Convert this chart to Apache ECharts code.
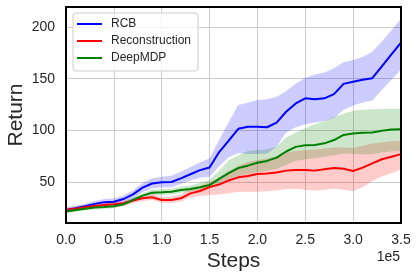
<!DOCTYPE html>
<html>
<head>
<meta charset="utf-8">
<script src="https://cdn.jsdelivr.net/npm/echarts@6/dist/echarts.min.js"></script>
<style>
html,body{margin:0;padding:0;background:#fff;}
#chart{width:418px;height:279px;}
</style>
</head>
<body>
<div id="chart"></div>
<script>
// x positions (training steps)
const steps = [0,10000,20000,30000,40000,50000,60000,70000,80000,90000,100000,110000,120000,130000,140000,150000,160000,170000,180000,190000,200000,210000,220000,230000,240000,250000,260000,270000,280000,290000,300000,310000,320000,330000,340000,350000];

const seriesNames = ['RCB','Reconstruction','DeepMDP'];

// RCB
const rcbMean  = [23,24.5,26.5,28.8,30.5,30.8,33.5,38,44.5,48.5,49.7,50,53.5,57.5,61.5,64,79,90,101.5,103.5,103.5,103,107.5,118,126,131,130,131,135,145,147,149,150.5,162,173.5,185];
const rcbUpper = [25.5,27,29,31.5,33.5,34,37,42,49,53.5,55,56,60,64.5,69,73,90.6,108,124.5,126.7,129.3,130,132.5,138,145,151,154,156,160,166,168,171,176,186,197,208];
const rcbLower = [20.5,22,24,26,27.5,27.8,30,34,40,44,45,45,48,51.5,54,55,65,74,78,77,77,77.5,84,98,103,106,107.5,109,112,120,124,127,129,139,149,159];

// Reconstruction
const recMean  = [23,24.2,25.5,26.8,27.8,28.4,29.4,32,34.2,35.2,32.6,32.6,34.2,39,41.3,45,47.5,51.5,54.5,55.8,57.7,58.2,59.2,61,61.6,61.6,61,62.3,63.5,62.9,60.6,63.9,68,72,74.5,77];
const recUpper = [25,26.3,27.8,29.1,30.2,30.8,31.9,34.6,37,38.2,35.5,36,38,43.5,46,50,54,61,65.5,69.6,71,73,75,78.5,80,81,81.5,82.5,83.5,83.5,83,85,87,88.5,89.5,90];
const recLower = [21,22,23.2,24.5,25.5,26,27,29.5,31.5,32.5,30,30,31,35,36.5,37.5,38,39,40.5,40.5,40.6,41,42,43,43.5,42.5,41.5,42.5,43.5,42.5,41,45,51,55.5,58.5,62];

// DeepMDP
const dmMean  = [21.5,22.9,24.2,25.2,25.8,26.5,28.4,32.6,36.8,39.7,40,40.5,42.3,43.2,45,47,53,58.5,63.5,65.8,68.7,70.4,73.6,79.5,84,85.5,85.8,87.4,90.6,95.5,97,97.7,98,99.6,100.8,101];
const dmUpper = [23,24.5,25.8,26.9,27.6,28.4,30.4,34.8,39.2,42.4,43,43.5,45.5,46.5,49,52,61,71,76,80,81,81.5,84,93,98,102,106,109,113,116,119,120,120.5,121,121,121];
const dmLower = [20,21.3,22.6,23.5,24,24.6,26.4,30.4,34.4,37,37.5,38,39.5,40.5,42,44,47,52,55.5,58,59.5,61,62.5,66.5,70.5,72,73,74.5,76,77.5,77,76.5,77,78.5,79.5,80];

// x tick labels (in units of 1e5)
const xTickLabels = ['0.0','0.5','1.0','1.5','2.0','2.5','3.0','3.5'];
const yTicks = [50,100,150,200];

const lineColors = ['#0000ff','#ff0000','#008000'];
const bandColors = ['rgba(0,0,255,0.2)','rgba(255,0,0,0.2)','rgba(0,128,0,0.2)'];
const means = [rcbMean, recMean, dmMean];
const uppers = [rcbUpper, recUpper, dmUpper];
const lowers = [rcbLower, recLower, dmLower];

const FONT = '"Liberation Sans", Arial, sans-serif';
const TXT = '#262626';

function bandSeries(k){
  const data = steps.map((s,i)=>[s, lowers[k][i], uppers[k][i]]);
  return {
    type:'custom',
    name: seriesNames[k] + ' band',
    silent:true,
    z:1,
    data,
    encode:{x:0, y:[1,2]},
    renderItem:function(params, api){
      if (params.dataIndex !== 0) return null;
      const pts = [];
      for (let i=0;i<data.length;i++) pts.push(api.coord([data[i][0], data[i][2]]));
      for (let i=data.length-1;i>=0;i--) pts.push(api.coord([data[i][0], data[i][1]]));
      return {type:'polygon', shape:{points:pts}, style:{fill:bandColors[k], stroke:null}};
    }
  };
}

function lineSeries(k){
  return {
    type:'line',
    name: seriesNames[k],
    data: steps.map((s,i)=>[s, means[k][i]]),
    symbol:'none',
    smooth:false,
    z:3,
    lineStyle:{color:lineColors[k], width:2},
    itemStyle:{color:lineColors[k]}
  };
}

const chart = echarts.init(document.getElementById('chart'), null, {renderer:'canvas'});
chart.setOption({
  animation:false,
  backgroundColor:'#ffffff',
  grid:{left:66, right:17, top:7, bottom:56, show:true, borderColor:'#000000', borderWidth:2, backgroundColor:'transparent', z:5, containLabel:false, outerBoundsMode:'none'},
  xAxis:{
    type:'value', min:0, max:350000, interval:50000,
    axisLine:{show:false}, axisTick:{show:false},
    axisLabel:{fontSize:14, color:TXT, fontFamily:FONT, margin:10,
      formatter:function(v){ const idx = Math.round(v/50000); return xTickLabels[idx] || ''; }},
    splitLine:{show:true, lineStyle:{color:'#cccccc', width:1}},
    name:'Steps', nameLocation:'middle', nameGap:28, nameMoveOverlap:false,
    nameTextStyle:{fontSize:21, color:TXT, fontFamily:FONT}
  },
  yAxis:{
    type:'value', min:10.3, max:219.4,
    axisLine:{show:false}, axisTick:{show:false},
    axisLabel:{fontSize:14, color:TXT, fontFamily:FONT, margin:11,
      showMinLabel:false, showMaxLabel:false,
      formatter:function(v){ return yTicks.indexOf(Math.round(v))>=0 && Math.abs(v-Math.round(v))<1e-6 ? String(Math.round(v)) : ''; }},
    splitLine:{show:true, lineStyle:{color:'#cccccc', width:1}},
    name:'Return', nameLocation:'middle', nameGap:39, nameMoveOverlap:false,
    nameTextStyle:{fontSize:21, color:TXT, fontFamily:FONT}
  },
  legend:{
    data:seriesNames,
    orient:'vertical',
    left:73, top:13,
    icon:'rect',
    itemWidth:25, itemHeight:2, itemGap:3,
    padding:[4,7,6,4],
    backgroundColor:'rgba(255,255,255,0.8)',
    borderColor:'#cccccc', borderWidth:1, borderRadius:3,
    textStyle:{fontSize:12, color:TXT, fontFamily:FONT, padding:[0,0,0,4], lineHeight:14}
  },
  graphic:[{
    type:'text', right:18, top:250,
    style:{text:'1e5', fontSize:14, fill:TXT, font:'14px "Liberation Sans", Arial, sans-serif'}
  }],
  series:[bandSeries(0), bandSeries(1), bandSeries(2), lineSeries(0), lineSeries(1), lineSeries(2)]
});
</script>
</body>
</html>
